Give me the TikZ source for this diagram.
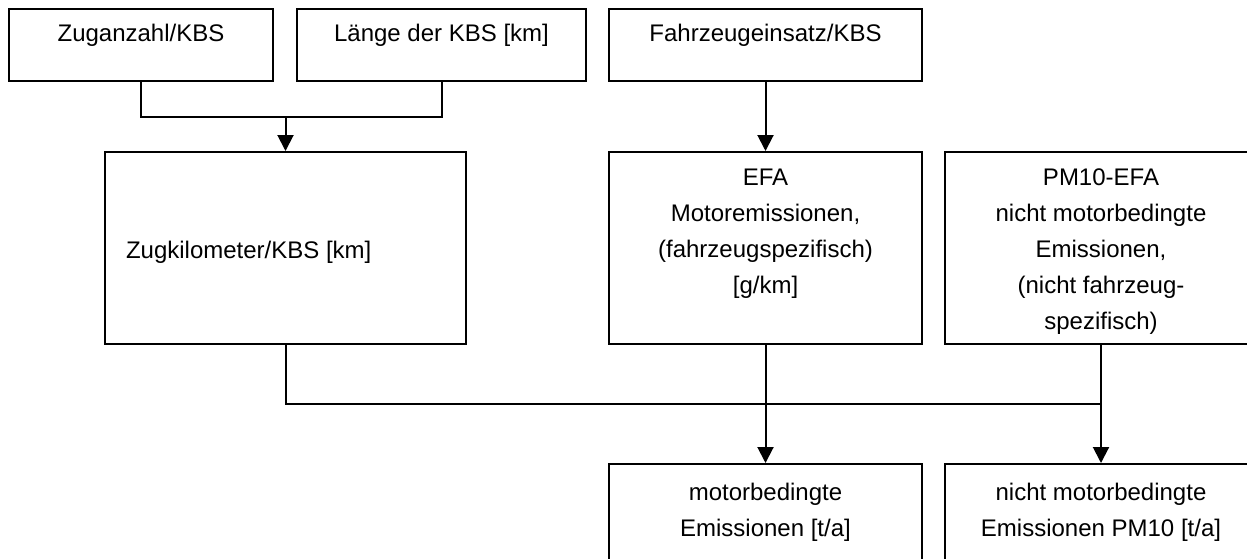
\documentclass[tikz,border=0pt]{standalone}
\usepackage{fontspec}
\setmainfont{Liberation Sans}
\usetikzlibrary{arrows.meta}
\newcommand{\bxc}[4]{\begin{minipage}[c][#2pt][t]{#1pt}\centering\rule{0pt}{#3pt}#4\end{minipage}}
\newcommand{\bxl}[5]{\begin{minipage}[c][#2pt][t]{#1pt}\raggedright\hspace*{#4pt}\rule{0pt}{#3pt}#5\end{minipage}}
\begin{document}
\begin{tikzpicture}[x=1pt,y=-1pt,
  box/.style={draw=black, line width=2pt, inner sep=0pt, fill=white,
    font=\fontsize{24}{36}\selectfont},
  conn/.style={draw=black, line width=2pt},
  arr/.style={conn, -{Triangle[width=16pt,length=16pt]}}]
\fill[white] (0,0) rectangle (1247,558);
\path[use as bounding box, clip] (0,0) rectangle (1247,558);
\node[box] (b1) at (141,45) {\bxc{264}{72}{32.6}{Zuganzahl/KBS}};
\node[box] (b2) at (441.5,45) {\bxc{289}{72}{32.6}{Länge der KBS [km]}};
\node[box] (b3) at (765.5,45) {\bxc{313}{72}{32.6}{Fahrzeugeinsatz/KBS}};
\node[box] (b4) at (285.5,248) {\bxl{361}{192}{106.6}{21}{Zugkilometer/KBS [km]}};
\node[box] (b5) at (765.5,248) {\bxc{313}{192}{33.6}{EFA\\Motoremissionen,\\(fahrzeugspezifisch)\\{}[g/km]}};
\node[box] (b6) at (1101,248) {\bxc{312}{192}{33.6}{PM10-EFA\\nicht motorbedingte\\Emissionen,\\(nicht fahrzeug-\\spezifisch)}};
\node[box] (b7) at (765.5,518) {\bxc{313}{108}{36.6}{motorbedingte\\Emissionen [t/a]}};
\node[box] (b8) at (1101,518) {\bxc{312}{108}{36.6}{nicht motorbedingte\\Emissionen PM10 [t/a]}};
\coordinate (j1) at (285.5,117);
\coordinate (j2) at (1101,404);
\draw[conn] (b1.south) |- (j1) -| (b2.south);
\draw[arr] (j1) -- (b4.north);
\draw[arr] (b3.south) -- (b5.north);
\draw[conn] (b4.south) |- (j2);
\draw[arr] (b5.south) -- (b7.north);
\draw[arr] (b6.south) -- (b8.north);
\end{tikzpicture}
\end{document}
